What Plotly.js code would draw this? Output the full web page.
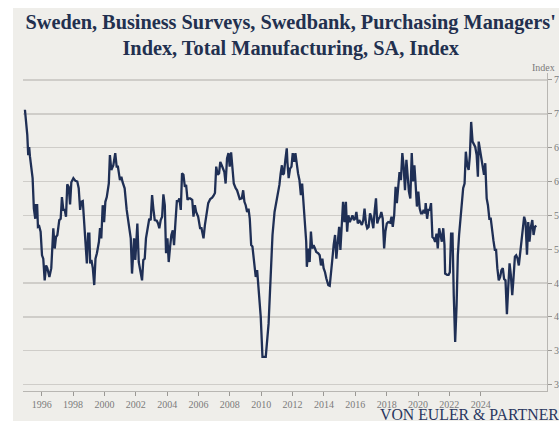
<!DOCTYPE html>
<html>
<head>
<meta charset="utf-8">
<script src="https://cdn.plot.ly/plotly-3.0.1.min.js"></script>
<style>html,body{margin:0;padding:0;background:#fff;}#chart{width:559px;height:421px;}</style>
</head>
<body>
<div id="chart"></div>
<script>
var obsYear = [
1994.93,1995.08,1995.14,1995.20,1995.25,1995.36,1995.42,1995.50,1995.59,1995.63,1995.71,1995.76,1995.84,1995.93,
1996.02,1996.10,1996.19,1996.28,1996.36,1996.49,1996.61,1996.74,1996.83,1996.91,1997.00,1997.12,1997.21,1997.29,
1997.38,1997.47,1997.55,1997.63,1997.72,1997.81,1997.89,1998.02,1998.15,1998.27,1998.36,1998.45,1998.53,1998.62,
1998.70,1998.79,1998.88,1998.96,1999.04,1999.09,1999.17,1999.26,1999.35,1999.43,1999.52,1999.65,1999.72,1999.80,
1999.89,1999.98,2000.06,2000.15,2000.28,2000.35,2000.44,2000.57,2000.69,2000.78,2000.86,2000.99,2001.08,2001.16,
2001.29,2001.42,2001.55,2001.68,2001.76,2001.89,2001.97,2002.10,2002.19,2002.27,2002.40,2002.48,2002.57,2002.65,
2002.78,2002.86,2002.95,2003.04,2003.12,2003.21,2003.34,2003.42,2003.50,2003.59,2003.68,2003.76,2003.85,2003.93,
2004.02,2004.10,2004.19,2004.27,2004.36,2004.44,2004.53,2004.62,2004.70,2004.78,2004.87,2004.95,2005.04,2005.13,
2005.21,2005.30,2005.38,2005.47,2005.60,2005.68,2005.77,2005.85,2005.98,2006.10,2006.19,2006.32,2006.41,2006.49,
2006.62,2006.75,2006.87,2006.96,2007.05,2007.13,2007.22,2007.31,2007.39,2007.48,2007.57,2007.65,2007.73,2007.82,
2007.91,2007.99,2008.08,2008.16,2008.25,2008.37,2008.46,2008.54,2008.63,2008.76,2008.85,2008.93,2009.01,2009.10,
2009.19,2009.27,2009.36,2009.44,2009.57,2009.65,2009.74,2009.82,2009.89,2009.97,2010.08,2010.29,2010.47,2010.56,
2010.62,2010.67,2010.72,2010.85,2010.94,2011.07,2011.16,2011.24,2011.32,2011.37,2011.45,2011.54,2011.63,2011.67,
2011.75,2011.84,2011.93,2012.01,2012.10,2012.18,2012.27,2012.35,2012.44,2012.53,2012.61,2012.70,2012.78,2012.87,
2012.91,2013.00,2013.09,2013.17,2013.25,2013.34,2013.43,2013.51,2013.64,2013.73,2013.81,2013.90,2013.98,2014.07,
2014.15,2014.28,2014.37,2014.45,2014.54,2014.62,2014.71,2014.79,2014.88,2014.97,2015.05,2015.14,2015.22,2015.31,
2015.40,2015.48,2015.56,2015.65,2015.73,2015.82,2015.91,2015.99,2016.07,2016.16,2016.25,2016.33,2016.42,2016.51,
2016.59,2016.68,2016.76,2016.85,2016.94,2017.02,2017.15,2017.23,2017.32,2017.40,2017.49,2017.58,2017.66,2017.75,
2017.84,2017.92,2018.01,2018.10,2018.23,2018.31,2018.39,2018.48,2018.57,2018.65,2018.74,2018.82,2018.91,2019.00,
2019.08,2019.17,2019.26,2019.34,2019.42,2019.51,2019.60,2019.68,2019.77,2019.85,2019.93,2020.02,2020.11,2020.19,
2020.28,2020.36,2020.45,2020.49,2020.58,2020.66,2020.75,2020.83,2020.92,2021.01,2021.09,2021.18,2021.26,2021.35,
2021.44,2021.52,2021.61,2021.69,2021.73,2021.86,2021.95,2022.03,2022.11,2022.20,2022.28,2022.37,2022.46,2022.54,
2022.62,2022.71,2022.80,2022.88,2022.97,2023.05,2023.14,2023.23,2023.31,2023.39,2023.48,2023.57,2023.65,2023.74,
2023.82,2023.87,2023.95,2024.03,2024.12,2024.21,2024.29,2024.38,2024.46,2024.55,2024.64,2024.72,2024.81,2024.90,
2024.98,2025.06,2025.15,2025.24,2025.32,2025.41,2025.49,2025.58,2025.67,2025.75,2025.84,2025.92,2026.01,2026.09,
2026.18,2026.26,2026.35,2026.43,2026.52,2026.60,2026.69,2026.77,2026.86,2026.95,2027.03,2027.11,2027.20,2027.29,
2027.37,2027.46,2027.54
];
var pmiValue = [
70.6,66.9,63.9,65.1,63.7,61.4,60.5,56.0,54.5,56.5,56.5,53.3,53.4,52.6,
49.1,48.6,45.4,47.6,47.2,45.9,47.2,53.1,50.1,51.8,52.1,54.3,54.5,57.7,
55.8,55.8,54.8,59.6,59.2,56.6,59.9,60.5,60.1,60.0,59.0,55.8,57.0,57.1,
54.0,52.1,47.9,52.3,52.3,47.9,48.4,47.2,44.7,48.6,49.4,51.1,53.1,51.6,
56.5,54.0,57.0,57.7,59.7,63.9,61.7,62.4,64.2,62.2,62.2,60.2,60.7,59.9,
59.0,55.8,54.0,51.6,46.4,51.6,48.4,53.8,48.1,47.2,45.4,48.4,48.6,51.6,
53.8,54.5,54.3,58.0,56.0,54.3,54.2,53.8,53.1,54.3,54.8,58.1,56.5,49.4,
51.6,48.1,50.4,52.1,52.8,50.6,54.0,57.1,57.1,57.5,55.8,61.2,61.0,59.2,
59.5,57.3,57.5,57.5,57.3,54.8,56.5,55.5,54.8,53.1,53.1,51.6,53.6,55.0,
56.8,57.4,57.6,57.9,58.3,62.2,61.0,61.2,62.9,62.4,61.7,61.4,59.7,63.4,
64.2,62.2,64.3,62.2,59.7,59.0,58.7,58.1,57.4,57.5,58.7,57.0,56.5,55.5,
56.0,54.5,50.6,50.4,48.1,45.9,46.9,44.7,43.5,40.0,34.1,34.1,39.0,43.5,
47.0,50.0,52.1,55.5,56.8,58.0,59.5,61.2,62.4,61.0,61.2,63.2,64.9,62.9,
60.5,61.9,62.2,64.2,62.9,64.2,62.2,61.2,60.2,58.0,59.7,57.0,54.0,51.1,
47.4,50.1,48.1,52.6,50.1,50.6,50.1,49.6,49.4,49.1,47.6,48.6,47.2,46.6,
45.7,44.7,44.6,46.2,48.6,50.6,52.1,48.6,51.6,53.3,49.9,53.3,57.0,54.0,
57.0,52.6,55.0,54.0,54.5,55.0,54.3,54.5,55.5,53.8,54.3,54.0,53.6,54.3,
56.0,53.8,53.1,53.3,55.3,54.8,53.1,55.5,57.5,53.8,54.5,54.8,55.5,54.5,
50.1,52.6,53.8,54.0,53.9,54.8,53.3,55.0,59.2,56.8,59.5,61.4,60.2,64.2,
62.4,58.7,63.2,60.5,58.5,57.5,64.2,60.0,62.4,59.5,56.3,58.5,56.0,55.3,
55.3,55.8,55.3,56.8,54.5,55.8,55.8,56.8,51.8,51.6,51.1,52.3,50.1,53.1,
52.1,51.1,53.1,50.6,46.4,46.2,46.2,46.6,52.3,52.3,43.2,36.3,41.7,49.1,
52.1,55.0,56.8,59.0,59.7,64.4,62.4,61.7,63.9,68.8,65.9,65.4,65.1,63.9,
60.7,65.9,64.6,63.9,62.2,61.0,62.7,57.5,56.5,54.5,54.5,52.6,51.3,49.9,
49.9,47.2,45.4,45.9,46.9,47.2,45.6,45.4,40.4,44.2,47.9,46.2,43.2,45.7,
48.9,49.1,48.6,47.6,49.6,50.9,52.6,54.8,54.0,49.2,54.0,51.1,53.3,54.3,
52.1,53.3,53.5
];
var xTickYears = [1996,1998,2000,2002,2004,2006,2008,2010,2012,2014,2016,2018,2020,2022,2024];
var yTickValues = [30,35,40,45,50,55,60,65,70,75];

var panel = '#efeeea';
var navy = '#1f2f55';
var gray = '#7b7b7b';
var serif = '"Liberation Serif", "DejaVu Serif", serif';

var trace = {
  x: obsYear, y: pmiValue, type: 'scatter', mode: 'lines',
  line: {color: navy, width: 2.3}, hoverinfo: 'skip'
};

var layout = {
  width: 559, height: 421, autosize: false,
  margin: {l: 23, r: 12, t: 73, b: 30, pad: 0},
  paper_bgcolor: '#ffffff', plot_bgcolor: panel,
  showlegend: false,
  title: {
    text: "Sweden, Business Surveys, Swedbank, Purchasing Managers'<br>Index, Total Manufacturing, SA, Index",
    font: {family: serif, size: 20.3, color: '#22304f', weight: 'bold'},
    xref: 'container', x: 0.52, xanchor: 'center',
    yref: 'container', y: 1 - 29/421, yanchor: 'top'
  },
  xaxis: {
    type: 'linear', range: [1994.807, 2028.227],
    tickvals: xTickYears, ticktext: xTickYears.map(String),
    showgrid: false, zeroline: false,
    showline: true, linecolor: '#b8b6b2', linewidth: 1,
    ticks: 'outside', ticklen: 4, tickcolor: '#9a9894', tickwidth: 1,
    tickfont: {family: serif, size: 10, color: gray}
  },
  yaxis: {
    side: 'right', range: [29.05, 76.03],
    tickvals: yTickValues, ticktext: yTickValues.map(String),
    showgrid: true, gridcolor: '#cfcdc9', gridwidth: 1.5,
    zeroline: false,
    showline: true, linecolor: '#b8b6b2', linewidth: 1,
    ticks: 'outside', ticklen: 4, tickcolor: '#9a9894', tickwidth: 1,
    tickfont: {family: serif, size: 10, color: gray}
  },
  shapes: [{
    type: 'rect', xref: 'paper', yref: 'paper', layer: 'below',
    x0: (13-23)/524, x1: 1.1, y0: -0.2, y1: (391-8)/318,
    fillcolor: panel, line: {width: 0}
  }],
  annotations: [
    {text: 'Index', xref: 'paper', yref: 'paper', x: (557-23)/524, y: (391-67)/318,
     xanchor: 'right', yanchor: 'middle', showarrow: false,
     font: {family: serif, size: 10, color: gray}},
    {text: 'VON EULER &amp; PARTNERS', xref: 'paper', yref: 'paper', x: (378-23)/524, y: (391-414)/318,
     xanchor: 'left', yanchor: 'middle', showarrow: false,
     font: {family: serif, size: 15.8, color: '#2a3760'}}
  ]
};

Plotly.newPlot('chart', [trace], layout, {displayModeBar: false, staticPlot: true});
</script>
</body>
</html>
